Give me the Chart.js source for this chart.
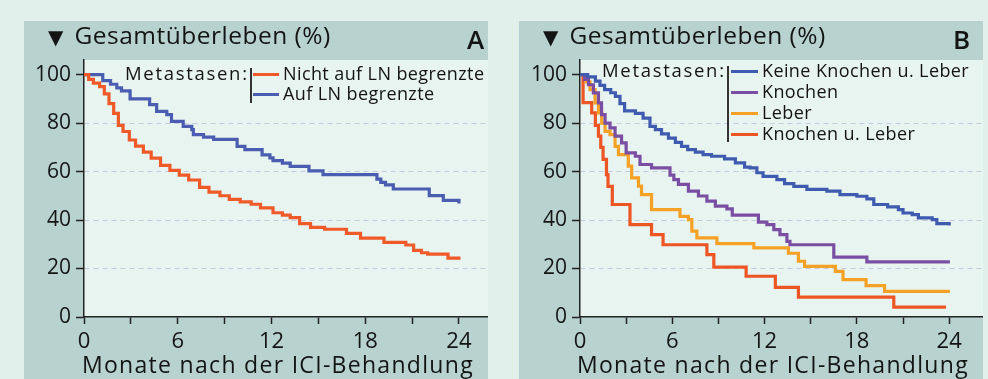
<!DOCTYPE html>
<html>
<head>
<meta charset="utf-8">
<script src="https://cdn.jsdelivr.net/npm/chart.js@4.4.0/dist/chart.umd.min.js"></script>
<style>
body{margin:0;width:988px;height:379px;background:#e2f0eb;position:relative;overflow:hidden;font-family:"Open Sans",sans-serif;color:#141414}
.panel{position:absolute;top:21px;width:464px;height:358px}
#pA{left:24px}
#pB{left:519px}
.panel canvas{position:absolute;left:0;top:0}
.head{position:absolute;left:24px;top:1px;font-size:24.5px;line-height:25px;letter-spacing:0.5px;white-space:nowrap}
.head .tri{font-family:"DejaVu Sans";font-size:20px;margin-right:11px;letter-spacing:0}
.letter{position:absolute;top:5px;font-size:26px;line-height:26px;font-weight:600}
.xlab{position:absolute;left:58px;top:331px;font-size:23px;line-height:24px;letter-spacing:1.3px;white-space:nowrap}
.leg{position:absolute;left:0;top:0;font-size:18px;line-height:20px;letter-spacing:0.4px;white-space:nowrap}
.leg div{position:absolute}
.leg .meta{letter-spacing:1.7px;font-size:18.5px}
.leg .sep{width:1.5px;background:#333}
.leg .sw{height:3px}
</style>
</head>
<body>
<div class="panel" id="pA">
  <canvas id="chartA" width="464" height="358"></canvas>
  <div class="head"><span class="tri">▼</span>Gesamtüberleben (%)</div>
  <div class="letter" style="left:443px">A</div>
  <div class="xlab">Monate nach der ICI-Behandlung</div>
  <div class="leg" id="legA"></div>
</div>
<div class="panel" id="pB">
  <canvas id="chartB" width="464" height="358"></canvas>
  <div class="head"><span class="tri">▼</span>Gesamtüberleben (%)</div>
  <div class="letter" style="left:434px">B</div>
  <div class="xlab">Monate nach der ICI-Behandlung</div>
  <div class="leg" id="legB"></div>
</div>
<script>
// Achsen
const xTickValues = [0, 3, 6, 9, 12, 15, 18, 21, 24];
const xTicks = [0, 6, 12, 18, 24];
const yTicks = [0, 20, 40, 60, 80, 100];
const legendTitle = "Metastasen:";

// Panel A
const namesA = ["Nicht auf LN begrenzte", "Auf LN begrenzte"];
const colorsA = ["#ef5a28", "#4a5db0"];
const monthsA1 = [0, 0.3, 0.6, 1.0, 1.3, 1.6, 1.9, 2.2, 2.5, 2.9, 3.3, 3.8, 4.3, 4.9, 5.5, 6.1, 6.7, 7.4, 8.0, 8.7, 9.3, 10.0, 10.7, 11.3, 12.1, 12.7, 13.2, 13.8, 14.5, 15.4, 16.8, 17.7, 19.2, 20.6, 21.1, 21.6, 22.0, 23.3, 24.1];
const survA1 = [100, 98, 96.5, 95, 92, 88, 84, 79, 76.5, 73, 70.5, 68, 65.5, 62.5, 60.5, 58.5, 56.5, 53.5, 51.5, 50, 48.5, 47.5, 46.5, 45, 43, 42, 41, 38.5, 37, 36.2, 34.5, 32.5, 30.8, 29.7, 27.5, 26.5, 25.9, 24.3, 24.3];
const monthsA2 = [0, 1.2, 1.7, 2.1, 2.4, 2.95, 4.2, 4.65, 5.3, 5.6, 6.35, 6.9, 7.0, 7.65, 8.3, 9.8, 10.3, 11.4, 11.9, 12.1, 12.7, 13.2, 14.4, 15.3, 18.75, 19.0, 19.3, 19.8, 22.1, 23.0, 24.0];
const survA2 = [100, 97.5, 96, 94.5, 93.3, 90, 87.6, 84.8, 83.5, 80.7, 78.6, 77.3, 75.2, 74.2, 73.3, 70.4, 69, 66.9, 65.6, 64.5, 63.5, 62.1, 60.3, 58.7, 56.9, 55.5, 54.5, 52.8, 50.1, 48.1, 46.8];

// Panel B
const namesB = ["Keine Knochen u. Leber", "Knochen", "Leber", "Knochen u. Leber"];
const colorsB = ["#3f5bb0", "#7a4fa3", "#f5a126", "#ee5524"];
const monthsB1 = [0, 0.5, 1.0, 1.3, 1.6, 2.0, 2.3, 2.6, 2.9, 3.6, 4.1, 4.55, 4.9, 5.3, 5.75, 6.2, 6.6, 7.0, 7.5, 8.0, 8.55, 9.4, 10.1, 10.7, 11.05, 11.5, 11.9, 12.8, 13.3, 13.9, 14.75, 16.05, 16.9, 18.0, 18.65, 19.1, 20.0, 20.7, 21.0, 21.6, 22.0, 22.9, 23.2, 24.0];
const survB1 = [100, 99, 97.3, 95.5, 93.8, 92.5, 91, 88, 85, 84, 82, 78.6, 77.3, 75.5, 73.8, 72, 70.4, 69, 68, 67, 66.3, 65.2, 63.6, 61.8, 61.5, 59.5, 58, 56.7, 55, 53.9, 52.6, 51.9, 50.5, 49.8, 48.7, 46.4, 45.4, 44.3, 42.9, 42.2, 40.9, 40.2, 38.5, 37.7];
const monthsB2 = [0, 0.3, 0.55, 0.87, 1.2, 1.4, 1.63, 1.95, 2.28, 2.7, 3.0, 3.6, 3.9, 4.65, 5.85, 6.1, 6.4, 7.05, 7.7, 8.25, 8.8, 9.55, 9.9, 11.6, 12.15, 12.6, 13.0, 13.45, 13.65, 16.5, 18.65, 24.05];
const survB2 = [100, 98, 95.8, 92.4, 88.3, 83.5, 80, 78, 74.6, 71.8, 67.7, 66.3, 62.9, 61.5, 58.5, 56.7, 54.7, 51.9, 49.9, 47.8, 45.7, 44.6, 42, 39.1, 38.1, 36, 34, 31.2, 29.8, 24.7, 22.7, 22.7];
const monthsB3 = [0, 0.4, 0.65, 0.98, 1.2, 1.41, 1.63, 1.95, 2.28, 2.5, 3.14, 3.36, 3.8, 4.0, 4.65, 6.5, 7.05, 7.27, 7.6, 8.9, 11.3, 13.55, 14.2, 14.6, 16.6, 17.1, 18.6, 19.8, 24.05];
const survB3 = [100, 97, 93.8, 88.3, 84.2, 80, 76.6, 75.2, 70.4, 67, 62.2, 57.4, 54, 50.5, 44.3, 41.5, 40.2, 35.4, 32.6, 30.3, 28.5, 26.3, 23, 20.9, 18.8, 15.4, 12.9, 10.6, 10.6];
const monthsB4 = [0, 0.2, 0.76, 1.0, 1.2, 1.35, 1.5, 1.72, 1.82, 2.1, 3.25, 4.65, 5.4, 8.25, 8.7, 10.8, 12.7, 14.2, 20.4, 23.8];
const survB4 = [100, 88.4, 84.2, 79, 74.6, 70, 65, 58.7, 53.9, 46.4, 38.1, 34, 29.8, 25.7, 20.6, 16.8, 12.2, 8.2, 4.1, 4.1];

const panelColor = "#b7d2cf";
const plotColor = "#e8f4f0";
const inkColor = "#141414";

const bgPlugin = {
    id: "bg",
    beforeDraw(chart) {
        const {ctx, chartArea: a} = chart;
        ctx.save();
        ctx.fillStyle = panelColor;
        ctx.fillRect(0, 0, chart.width, chart.height);
        ctx.fillStyle = plotColor;
        ctx.fillRect(a.left, a.top, a.right - a.left, a.bottom - a.top);
        ctx.restore();
    }
};

function makeSet(name, color, months, surv) {
    return {
        label: name,
        data: months.map((m, i) => ({x: m, y: surv[i]})),
        borderColor: color,
        borderWidth: 3.2,
        pointRadius: 0,
        stepped: true,
        fill: false
    };
}

function createChart(id, datasets, xMax, yAxisWidth) {
    return new Chart(document.getElementById(id), {
        type: "line",
        data: {datasets: datasets},
        plugins: [bgPlugin],
        options: {
            responsive: false,
            animation: false,
            layout: {padding: {top: 39, right: 0, left: 0, bottom: 0}},
            plugins: {legend: {display: false}, tooltip: {enabled: false}},
            scales: {
                x: {
                    type: "linear",
                    min: 0,
                    max: xMax,
                    afterBuildTicks: s => { s.ticks = xTickValues.map(v => ({value: v})); },
                    afterFit: s => { s.height = 62; },
                    ticks: {
                        autoSkip: false,
                        maxRotation: 0,
                        padding: 5,
                        color: inkColor,
                        font: {family: "Open Sans", size: 22},
                        callback: v => xTicks.includes(v) ? v : ""
                    },
                    grid: {drawOnChartArea: false, tickLength: 7, tickColor: "#222", tickWidth: 1.5},
                    border: {color: "#222", width: 1.5}
                },
                y: {
                    min: 0,
                    max: 106,
                    afterBuildTicks: s => { s.ticks = yTicks.map(v => ({value: v})); },
                    afterFit: s => { s.width = yAxisWidth; },
                    ticks: {
                        autoSkip: false,
                        padding: 5,
                        color: inkColor,
                        font: {family: "Open Sans", size: 21}
                    },
                    grid: {
                        color: c => (c.tick && c.tick.value > 0 && c.tick.value < 100) ? "#c4cbdf" : "rgba(0,0,0,0)",
                        lineWidth: 1,
                        tickLength: 8,
                        tickColor: "#222",
                        tickWidth: 1.5,
                        tickBorderDash: []
                    },
                    border: {color: "#222", width: 1.5, dash: [5, 4]}
                }
            }
        }
    });
}

function buildLegend(id, names, colors, o) {
    const el = document.getElementById(id);
    let html = `<div class="meta" style="left:${o.metaX}px;top:${o.rowY[0] - 11}px">${legendTitle}</div>`;
    html += `<div class="sep" style="left:${o.sepX}px;top:${o.sepTop}px;height:${o.sepH}px"></div>`;
    names.forEach((n, i) => {
        html += `<div class="sw" style="left:${o.swX}px;width:${o.swW}px;top:${o.rowY[i] - 1}px;background:${colors[i]}"></div>`;
        html += `<div style="left:${o.textX}px;top:${o.rowY[i] - 11}px">${n}</div>`;
    });
    el.innerHTML = html;
}

createChart("chartA", namesA.map((n, i) => makeSet(n, colorsA[i], [monthsA1, monthsA2][i], [survA1, survA2][i])), 25.86, 60);
createChart("chartB", namesB.map((n, i) => makeSet(n, colorsB[i], [monthsB1, monthsB2, monthsB3, monthsB4][i], [survB1, survB2, survB3, survB4][i])), 26.2, 61);

buildLegend("legA", namesA, colorsA, {metaX: 101, sepX: 226, sepTop: 47, sepH: 35, swX: 229, swW: 26, textX: 259, rowY: [53, 73]});
buildLegend("legB", namesB, colorsB, {metaX: 83, sepX: 208, sepTop: 45, sepH: 76, swX: 212, swW: 27, textX: 243, rowY: [50, 71, 92, 113]});
</script>
</body>
</html>
